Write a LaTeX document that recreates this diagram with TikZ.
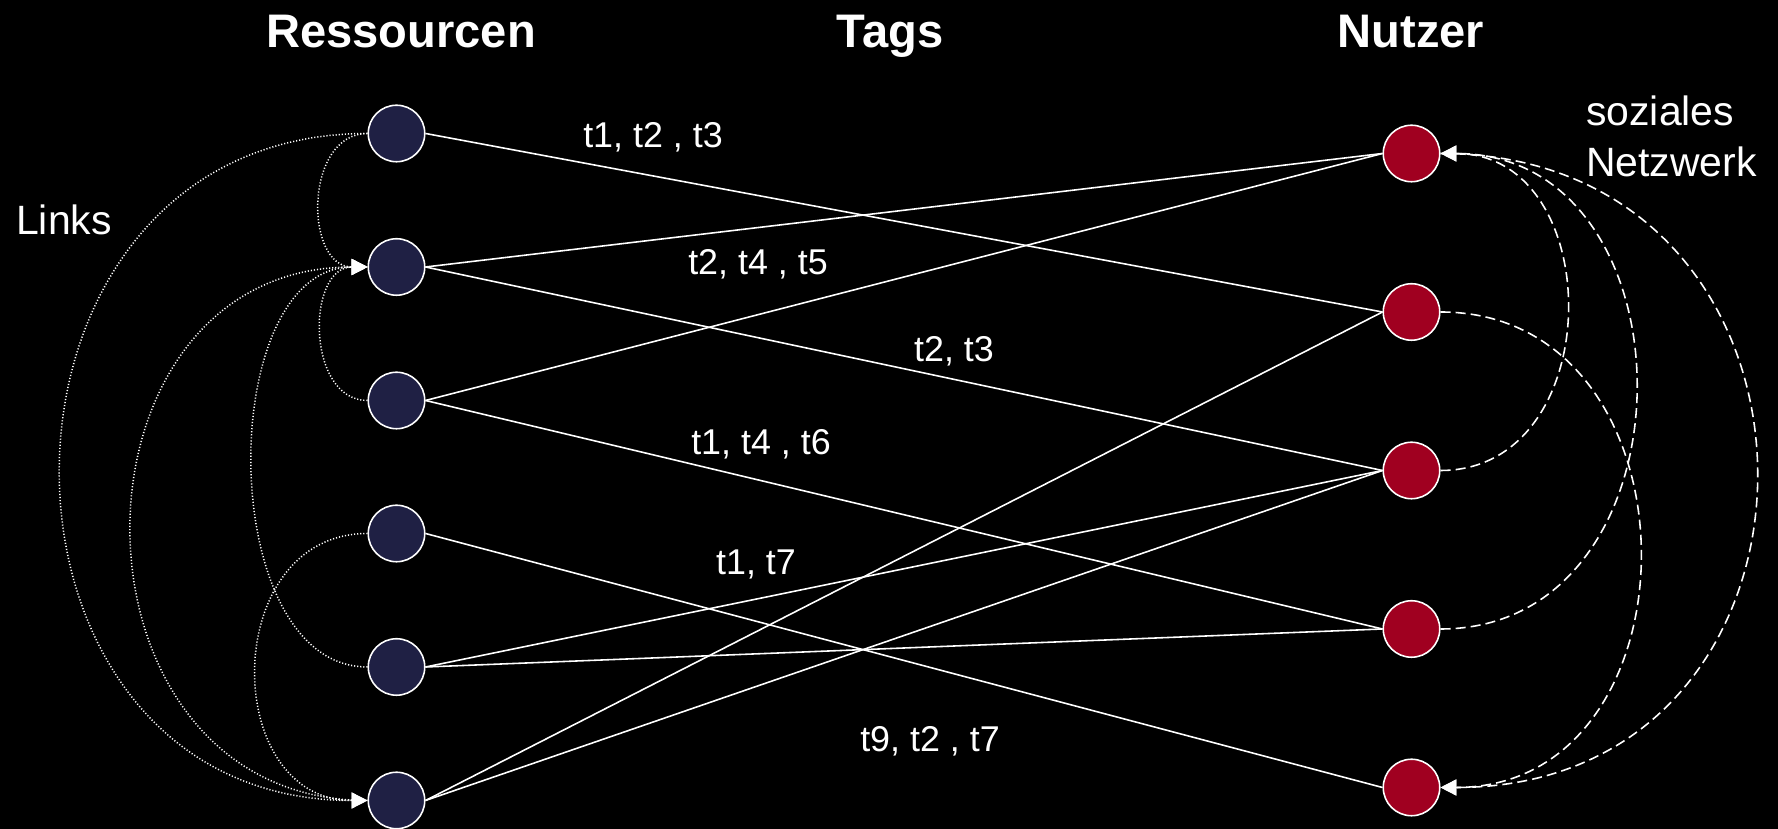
\documentclass[tikz,border=0pt]{standalone}
\usepackage{fontspec}
\setmainfont{Liberation Sans}
\usepackage{xcolor}
\usetikzlibrary{
    positioning,
    arrows.meta,
}
\definecolor{resblue}{RGB}{31,32,68}
\definecolor{userred}{RGB}{160,0,32}
\tikzset{
    % Node styles
    resource/.style={circle, draw=white, line width=0.9pt, fill=resblue,
                     minimum size=1.13cm, inner sep=0pt},
    user/.style={resource, fill=userred},
    % Text styles
    heading/.style={text=white, anchor=base, font=\bfseries\fontsize{26.8}{31}\selectfont},
    tag label/.style={text=white, anchor=base, font=\fontsize{20.4}{23}\selectfont},
    note/.style={text=white, align=left, font=\fontsize{23.3}{29.5}\selectfont},
    % Arrow styles
    tag edge/.style={white, line width=0.9pt},
    link arrow/.style={-{Triangle[length=9pt, width=9pt]}, white, line width=0.85pt,
                       dash pattern=on 0.65pt off 1.1pt},
    social arrow/.style={-{Triangle[length=9pt, width=9pt]}, white, line width=0.9pt,
                         dash pattern=on 5.7pt off 2.9pt},
}

\begin{document}
\begin{tikzpicture}
    \useasboundingbox (0,0) rectangle (35.56,16.58);
    \fill[black] (0,0) rectangle (35.56,16.58);

    % Headings
    \node[heading] (hres) at (8.02,15.62) {Ressourcen};
    \node[heading] (htags) at (17.80,15.62) {Tags};
    \node[heading] (husers) at (28.22,15.62) {Nutzer};

    % Resources
    \node[resource] (r1) at (7.93,13.91) {};
    \node[resource] (r2) at (7.93,11.24) {};
    \node[resource] (r3) at (7.93,8.57) {};
    \node[resource] (r4) at (7.93,5.91) {};
    \node[resource] (r5) at (7.93,3.24) {};
    \node[resource] (r6) at (7.93,0.57) {};

    % Users
    \node[user] (u1) at (28.23,13.51) {};
    \node[user] (u2) at (28.23,10.34) {};
    \node[user] (u3) at (28.23,7.17) {};
    \node[user] (u4) at (28.23,4.00) {};
    \node[user] (u5) at (28.23,0.83) {};

    % Tagging
    \draw[tag edge] (r1.east) -- (u2.west);
    \draw[tag edge] (r2.east) -- (u1.west);
    \draw[tag edge] (r2.east) -- (u3.west);
    \draw[tag edge] (r3.east) -- (u1.west);
    \draw[tag edge] (r3.east) -- (u4.west);
    \draw[tag edge] (r4.east) -- (u5.west);
    \draw[tag edge] (r5.east) -- (u3.west);
    \draw[tag edge] (r5.east) -- (u4.west);
    \draw[tag edge] (r6.east) -- (u2.west);
    \draw[tag edge] (r6.east) -- (u3.west);

    \node[tag label] (t123) at (13.06,13.62) {t1, t2 , t3};
    \node[tag label] (t245) at (15.16,11.08) {t2, t4 , t5};
    \node[tag label] (t23) at (19.08,9.34) {t2, t3};
    \node[tag label] (t146) at (15.22,7.48) {t1, t4 , t6};
    \node[tag label] (t17) at (15.12,5.08) {t1, t7};
    \node[tag label] (t927) at (18.60,1.54) {t9, t2 , t7};

    % Links between resources
    \node[note, anchor=base] (links) at (1.28,11.88) {Links};
    \draw[link arrow] (r1.west) to[out=180, in=180, looseness=1.22] (r2.west);
    \draw[link arrow] (r3.west) to[out=180, in=180, looseness=1.18] (r2.west);
    \draw[link arrow] (r5.west) to[out=180, in=180, looseness=0.98] (r2.west);
    \draw[link arrow] (r6.west) to[out=180, in=180, looseness=1.51] (r2.west);
    \draw[link arrow] (r1.west) to[out=180, in=180, looseness=1.57] (r6.west);
    \draw[link arrow] (r4.west) to[out=180, in=180, looseness=1.42] (r6.west);

    % Social network
    \node[note, anchor=base west] (social) at (31.60,13.04) {soziales\\Netzwerk};
    \draw[social arrow] (u3.east) to[out=0, in=0, looseness=1.36] (u1.east);
    \draw[social arrow] (u4.east) to[out=0, in=0, looseness=1.40] (u1.east);
    \draw[social arrow] (u2.east) to[out=0, in=0, looseness=1.43] (u5.east);
    \draw[social arrow] (u1.east) to[out=0, in=0, looseness=1.70] (u5.east);
\end{tikzpicture}
\end{document}
